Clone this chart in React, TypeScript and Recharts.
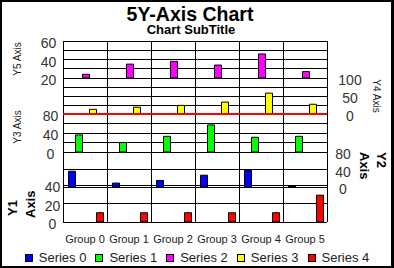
import { BarChart, Bar, XAxis, YAxis, CartesianGrid, ReferenceLine } from 'recharts';

const groups = ['Group 0', 'Group 1', 'Group 2', 'Group 3', 'Group 4', 'Group 5'];

// one series per axis
const series0 = [36, 9, 15, 27, 38, 2]; // Y2
const series1 = [36, 20, 33, 57, 31, 33]; // Y3
const series2 = [24, 35, 38, 34, 46, 27]; // Y5
const series3 = [13, 19, 24, 33, 58, 27]; // Y4
const series4 = [10, 10, 10, 10, 10, 29]; // Y1

const seriesNames = ['Series 0', 'Series 1', 'Series 2', 'Series 3', 'Series 4'];
const seriesColors = ['#0000ff', '#00ff00', '#ff00ff', '#ffff00', '#ff0000'];

const y5Ticks = [20, 40, 60];
const y4Ticks = [0, 50, 100];
const y3Ticks = [0, 40, 80];
const y2Ticks = [0, 40, 80];
const y1Ticks = [0, 20, 40];

const y5Grid = [20, 30, 40, 50, 60];
const y4Grid = [0, 25, 50, 75, 100];
const y3Grid = [0, 20, 40, 60, 80];
const y2Grid = [0, 40, 80];
const y1Grid = [0, 20, 40];

const W = 394;
const H = 268;
const PLOT_TOP = 41;
const PLOT_H = 181;
const FONT = '"Liberation Sans", Arial, Helvetica, sans-serif';

// each axis lives in its own band of the plot: value hi sits at topPx, lo at bottomPx
function bandDomain(lo: number, hi: number, topPx: number, bottomPx: number) {
  const perPx = (hi - lo) / (bottomPx - topPx);
  return [lo - (PLOT_H - bottomPx) * perPx, hi + topPx * perPx];
}

const data = groups.map((g, i) => ({
  group: g,
  s0: series0[i],
  s1: series1[i],
  s2: series2[i],
  s3: series3[i],
  s4: series4[i],
}));

// vertical lines sit on the edges of the category bands
const cellEdges = ({ offset }: any) =>
  groups.map((_, i) => i).concat(groups.length).map((i) => offset.left + (i * offset.width) / groups.length);

const tickText = (props: any) => (
  <text
    x={props.x}
    y={props.y}
    dy={7}
    textAnchor="middle"
    fontSize={14}
    fontFamily={FONT}
    fill="#333"
  >
    {props.payload.value}
  </text>
);

const groupTick = (props: any) => (
  <text x={props.x} y={props.y} dy={18.5} textAnchor="middle" fontSize={11} fontFamily={FONT} fill="#222">
    {props.payload.value}
  </text>
);

export default function App() {
  // axes on one side are 1px wide each so they pile up at the plot edge
  const yAxisCommon = {
    type: 'number' as const,
    width: 1,
    tickSize: 0,
    axisLine: false,
    tickLine: false,
    interval: 0,
    allowDataOverflow: true,
    tick: tickText,
  };

  return (
    <div style={{ position: 'fixed', left: 0, top: 0, width: W, height: H, background: '#fff', overflow: 'hidden' }}>
      <style>{'.recharts-cartesian-grid line, .recharts-reference-line line { shape-rendering: crispEdges; }'}</style>
      <BarChart
        width={W}
        height={H}
        data={data}
        margin={{ top: PLOT_TOP, left: 60, right: 65, bottom: 26 }}
        barCategoryGap="12.5%"
        barGap={0}
      >
        <XAxis dataKey="group" height={20} tickSize={0} axisLine={false} tickLine={false} interval={0} tick={groupTick} />

        <YAxis yAxisId="y5" orientation="left" {...yAxisCommon} tickMargin={12.5} ticks={y5Ticks} domain={bandDomain(20, 60, 0, 37)} />
        <YAxis yAxisId="y3" orientation="left" {...yAxisCommon} tickMargin={11.5} ticks={y3Ticks} domain={bandDomain(0, 80, 73, 111)} />
        <YAxis yAxisId="y1" orientation="left" {...yAxisCommon} tickMargin={10.5} ticks={y1Ticks} domain={bandDomain(0, 40, 144, 181)} />
        <YAxis yAxisId="y4" orientation="right" {...yAxisCommon} tickMargin={22} ticks={y4Ticks} domain={bandDomain(0, 100, 37, 73)} />
        <YAxis yAxisId="y2" orientation="right" {...yAxisCommon} tickMargin={16} ticks={y2Ticks} domain={bandDomain(0, 80, 111, 146)} />

        <CartesianGrid yAxisId="y5" vertical={false} horizontalValues={y5Grid} stroke="#000" />
        <CartesianGrid yAxisId="y4" vertical={false} horizontalValues={y4Grid} stroke="#000" />
        <CartesianGrid yAxisId="y3" vertical={false} horizontalValues={y3Grid} stroke="#000" />
        <CartesianGrid yAxisId="y2" vertical={false} horizontalValues={y2Grid} stroke="#000" />
        <CartesianGrid yAxisId="y1" vertical={false} horizontalValues={y1Grid} stroke="#000" />
        <CartesianGrid yAxisId="y1" horizontal={false} verticalCoordinatesGenerator={cellEdges} stroke="#000" />

        <Bar yAxisId="y2" dataKey="s0" fill={seriesColors[0]} stroke="#000" strokeWidth={1} isAnimationActive={false} />
        <Bar yAxisId="y3" dataKey="s1" fill={seriesColors[1]} stroke="#000" strokeWidth={1} isAnimationActive={false} />
        <Bar yAxisId="y5" dataKey={(d: any) => [y5Ticks[0], d.s2]} fill={seriesColors[2]} stroke="#000" strokeWidth={1} isAnimationActive={false} />
        <Bar yAxisId="y4" dataKey="s3" fill={seriesColors[3]} stroke="#000" strokeWidth={1} isAnimationActive={false} />
        <Bar yAxisId="y1" dataKey="s4" fill={seriesColors[4]} stroke="#000" strokeWidth={1} isAnimationActive={false} />

        <ReferenceLine yAxisId="y4" y={0} stroke="#ff0000" strokeWidth={2} />
      </BarChart>

      <svg width={W} height={H} style={{ position: 'absolute', left: 0, top: 0, pointerEvents: 'none' }} fontFamily={FONT}>
        <text x={190} y={20.5} textAnchor="middle" fontSize={19.5} fontWeight="bold" fill="#000">5Y-Axis Chart</text>
        <text x={191} y={34} textAnchor="middle" fontSize={13} fontWeight="bold" fill="#000">Chart SubTitle</text>

        <text transform="translate(20.5,59) rotate(-90)" textAnchor="middle" fontSize={10} fill="#222">Y5 Axis</text>
        <text transform="translate(20.5,127) rotate(-90)" textAnchor="middle" fontSize={10} fill="#222">Y3 Axis</text>
        <text transform="translate(17,216) rotate(-90)" fontSize={13} fontWeight="bold" fill="#000">Y1</text>
        <text transform="translate(35,218) rotate(-90)" fontSize={13} fontWeight="bold" fill="#000">Axis</text>

        <text transform="translate(372.5,96) rotate(90)" textAnchor="middle" fontSize={10} fill="#222">Y4 Axis</text>
        <text transform="translate(377,152) rotate(90)" fontSize={13} fontWeight="bold" fill="#000">Y2</text>
        <text transform="translate(360,152) rotate(90)" fontSize={13} fontWeight="bold" fill="#000">Axis</text>
      </svg>

      <div
        style={{
          position: 'absolute',
          left: 0,
          top: 250,
          width: W,
          display: 'flex',
          justifyContent: 'center',
          gap: 9,
          fontFamily: FONT,
          fontSize: 13,
          lineHeight: '16px',
          color: '#222',
        }}
      >
        {seriesNames.map((name, i) => (
          <div key={name} style={{ display: 'flex', alignItems: 'center' }}>
            <span
              style={{
                display: 'inline-block',
                width: 6,
                height: 6,
                border: '1px solid #000',
                background: seriesColors[i],
                marginRight: 6,
              }}
            />
            <span>{name}</span>
          </div>
        ))}
      </div>

      <div
        style={{
          position: 'absolute',
          left: 0,
          top: 0,
          width: W,
          height: H,
          boxSizing: 'border-box',
          borderTop: '2px solid #000',
          borderLeft: '2px solid #000',
          borderBottom: '2px solid #000',
          borderRight: '3px solid #000',
          pointerEvents: 'none',
        }}
      />
    </div>
  );
}
